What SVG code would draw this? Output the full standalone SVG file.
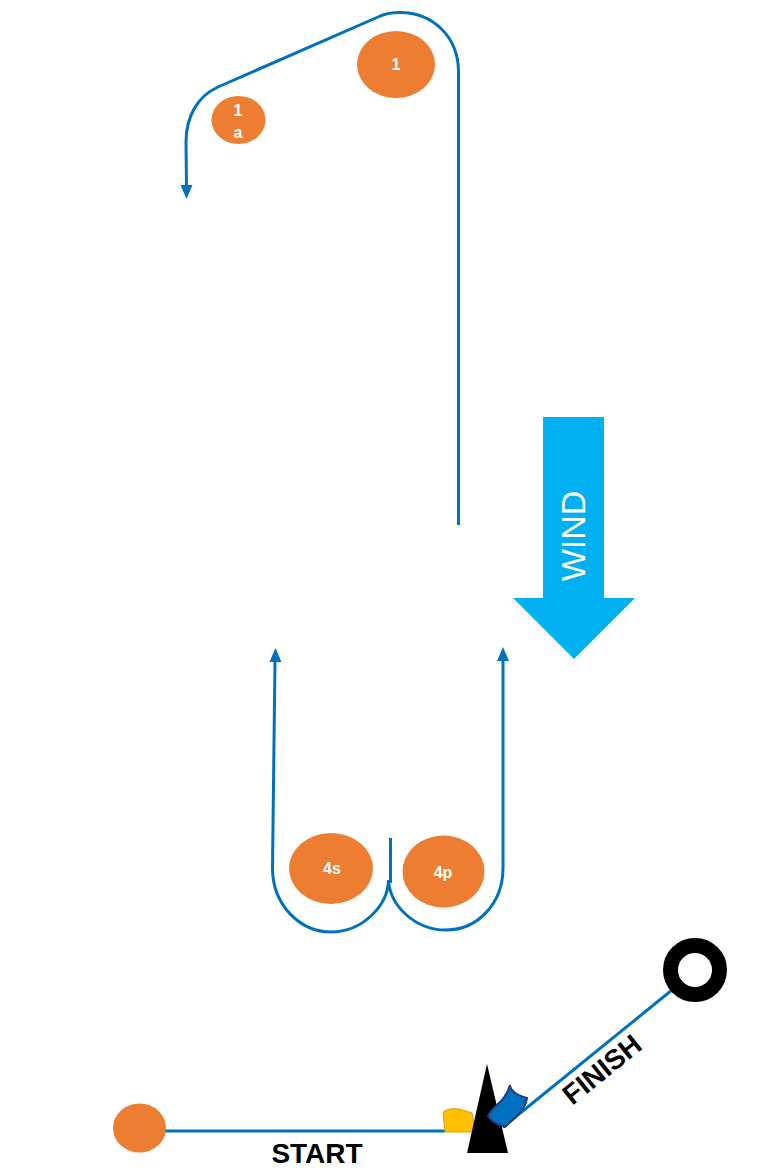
<svg xmlns="http://www.w3.org/2000/svg" width="763" height="1171" viewBox="0 0 763 1171">
<style>
.c{fill:none;stroke:#0070c0;stroke-width:3}
.h{fill:#0070c0}
.m{fill:#ed7d31}
.l{fill:#fff;font:bold 16px "Liberation Sans",Arial,sans-serif;text-anchor:middle}
.k{fill:#000;font:bold 28px "Liberation Sans",Arial,sans-serif;text-anchor:middle}
</style>
<rect width="763" height="1171" fill="#fff"/>
<g id="connectors">
<path class="c" d="M458.500 525V72C458.500 36 432 12.500 400 12.500C392 12.500 385 13.500 378 17L218 87C198 96 186 116 186 142L186.500 187"/>
<path class="h" d="M180.500 185H192.500L186.500 199Z"/>
<path class="c" d="M275 660L272.500 868C272.500 905 300 932 331 932C362 932 388 906 388.500 880C390 906 415 930 446 930C478 930 503 903 503 868V660"/>
<path class="c" d="M390.500 838V883"/>
<path class="h" d="M269.500 662H281.500L275.500 648Z"/>
<path class="h" d="M497 661H509L503 647Z"/>
<path class="c" d="M165 1131H445"/>
<path class="c" d="M503 1127L672 990"/>
</g>
<g id="wind">
<path fill="#00b0f0" d="M543 417H604V598H635L574 659L513 598H543Z"/>
<text x="574" y="525" transform="rotate(-90 585 525)" fill="#fff" font-family="'Liberation Sans',Arial,sans-serif" font-size="34" text-anchor="middle">WIND</text>
</g>
<g id="mark-1"><ellipse class="m" cx="396" cy="64.500" rx="39" ry="33.500"/><text class="l" x="396" y="70">1</text></g>
<g id="mark-1a"><ellipse class="m" cx="238.500" cy="120" rx="27" ry="24"/><text class="l" x="238" y="116">1</text><text class="l" x="238" y="138">a</text></g>
<g id="mark-4s"><ellipse class="m" cx="331" cy="868.500" rx="42" ry="35.500"/><text class="l" x="332" y="874">4s</text></g>
<g id="mark-4p"><ellipse class="m" cx="443.500" cy="871.500" rx="41" ry="36"/><text class="l" x="443" y="878">4p</text></g>
<g id="start-mark"><ellipse class="m" cx="139.500" cy="1128" rx="26.500" ry="24.500"/></g>
<g id="finish-mark"><circle cx="695" cy="970" r="24.500" fill="#fff" stroke="#000" stroke-width="15"/></g>
<g id="yellow-flag"><path fill="#ffc000" stroke="#d9a300" d="M443 1112C452 1106 460 1109 472 1113L476 1132L445 1132Z"/></g>
<g id="committee-boat"><path fill="#000" d="M487 1064L508 1153H467Z"/></g>
<g id="blue-flag"><path fill="#0070c0" stroke="#1f3f80" stroke-width="2" d="M510 1085C511 1093 520 1096 527 1098C525 1110 517 1116 505 1127C498 1125 491 1121 488 1116C493 1105 505 1103 510 1085Z"/></g>
<g id="labels">
<text class="k" x="317" y="1163">START</text>
<text class="k" x="608" y="1077" transform="rotate(-39 608 1077)">FINISH</text>
</g>
</svg>
